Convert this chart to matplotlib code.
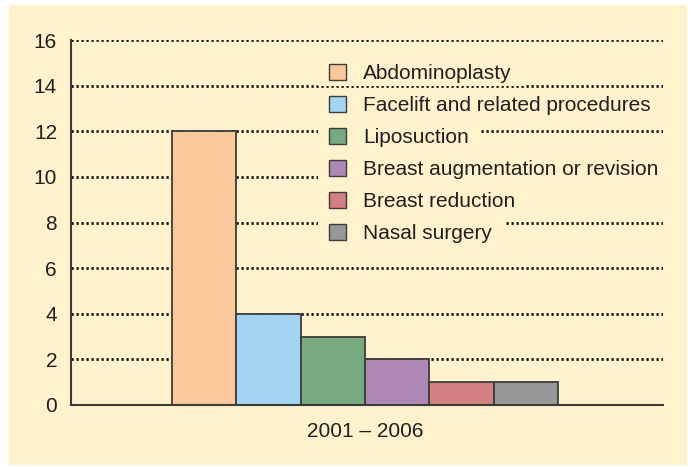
import matplotlib
matplotlib.use("Agg")
import matplotlib.pyplot as plt
from matplotlib.patches import Patch, Rectangle

# Procedure counts, 2001 - 2006
procedures = ["Abdominoplasty", "Facelift and related procedures", "Liposuction",
              "Breast augmentation or revision", "Breast reduction", "Nasal surgery"]
counts = [12, 4, 3, 2, 1, 1]
colors = ["#FBC89B", "#A3D4F1", "#77AA80", "#AD88B5", "#D48080", "#97979A"]
period = "2001 – 2006"
yticks = [0, 2, 4, 6, 8, 10, 12, 14, 16]

cream = "#FFF2CC"
ink = "#231F20"
plt.rcParams["font.family"] = ["Liberation Sans", "DejaVu Sans"]

fig = plt.figure(figsize=(6.93, 4.67), dpi=100, facecolor="white")
W, H = 693, 467
# cream panel behind the chart
fig.patches.append(Rectangle((9 / W, 1 - 465 / H), (687 - 9) / W, (465 - 5) / H,
                             transform=fig.transFigure, facecolor=cream,
                             edgecolor="none", zorder=-1))

ax = fig.add_axes([71 / W, 1 - 405 / H, (663 - 71) / W, (405 - 40) / H])
ax.set_facecolor("none")
ax.set_zorder(1)

n = len(counts)
offsets = [i - (n - 1) / 2 for i in range(n)]
for off, val, col, lab in zip(offsets, counts, colors, procedures):
    ax.bar(off, val, width=1.0, color=col, edgecolor="#3C3C3C", linewidth=1.3,
           label=lab, zorder=2)

ax.set_ylim(0, 16)
ax.set_xlim(-4.57, 4.63)
ax.set_yticks(yticks)
ax.set_xticks([0])
ax.set_xticklabels([period])
ax.tick_params(axis="both", length=0, labelsize=15, colors=ink)
ax.tick_params(axis="y", pad=10)
ax.tick_params(axis="x", pad=12)

for s in ["top", "right"]:
    ax.spines[s].set_visible(False)
for s in ["left", "bottom"]:
    ax.spines[s].set_color("#3C3C3C")
    ax.spines[s].set_linewidth(1.5)

# dotted gridlines
for y in yticks[1:]:
    ax.axhline(y, color="#111111", linestyle=(0, (0.8, 1.0)), linewidth=2.0, zorder=0.5)

handles = [Patch(facecolor=c, edgecolor="#3C3C3C", linewidth=1.0) for c in colors]
leg = ax.legend(handles, procedures, loc="upper left", frameon=False,
                bbox_to_anchor=(329 / W, 1 - 64 / H), bbox_transform=fig.transFigure,
                fontsize=15, handlelength=0.8, handleheight=0.8, handletextpad=0.85,
                labelspacing=0.61, borderpad=0, borderaxespad=0)
leg.set_zorder(5)
for t in leg.get_texts():
    t.set_color(ink)

# clear the gridlines behind each legend entry
fig.canvas.draw()
inv = ax.transAxes.inverted()
for h, t in zip(leg.legend_handles, leg.get_texts()):
    hb = h.get_window_extent()
    tb = t.get_window_extent()
    x0, y0 = hb.x0 - 11, tb.y0 - 3
    x1, y1 = tb.x1 + 12, tb.y1 + 2
    (ax0, ay0), (ax1, ay1) = inv.transform([(x0, y0), (x1, y1)])
    ax.add_patch(Rectangle((ax0, ay0), ax1 - ax0, ay1 - ay0, transform=ax.transAxes,
                           facecolor=cream, edgecolor="none", zorder=1, clip_on=False))

fig.savefig("out.png", dpi=100, facecolor="white")
